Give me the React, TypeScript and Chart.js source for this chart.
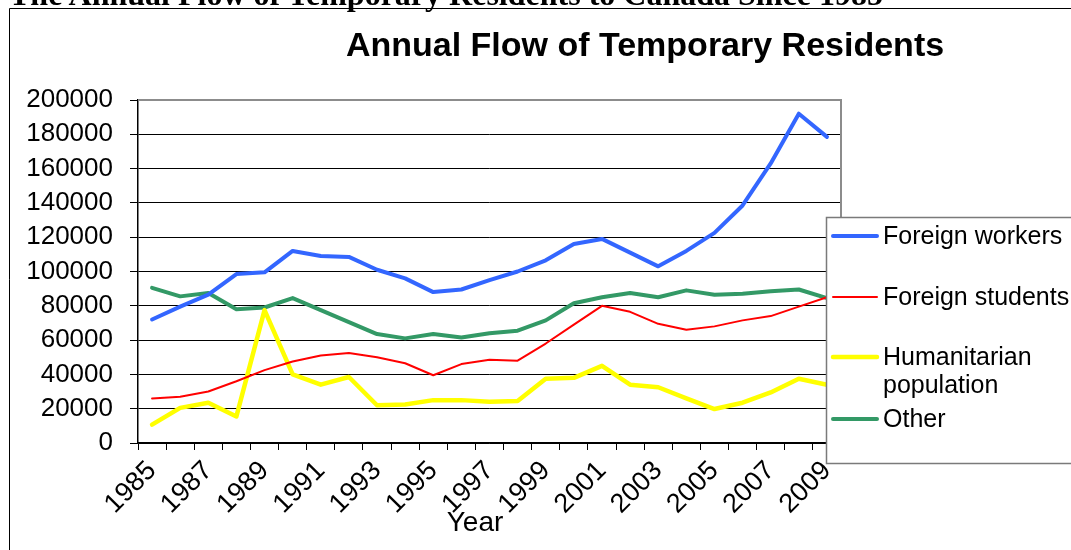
import React, { useEffect, useRef } from 'react';
import { Chart, registerables } from 'chart.js';

Chart.register(...registerables);

const years = [
  '1985', '1986', '1987', '1988', '1989', '1990', '1991', '1992', '1993', '1994',
  '1995', '1996', '1997', '1998', '1999', '2000', '2001', '2002', '2003', '2004',
  '2005', '2006', '2007', '2008', '2009',
];

const foreignWorkers = [
  72000, 79500, 86500, 98500, 99500, 112000, 109000, 108500, 101000, 96000,
  88000, 89500, 95000, 100000, 106500, 116000, 119000, 111000, 103000, 112000,
  122500, 138500, 163000, 192000, 178500,
];

const foreignStudents = [
  26000, 27000, 30000, 36000, 42500, 47500, 51000, 52500, 50000, 46500,
  39500, 46000, 48500, 48000, 58000, 69000, 80000, 76500, 69500, 66000,
  68000, 71500, 74000, 79500, 85000,
];

const humanitarian = [
  10700, 20500, 23500, 15500, 77500, 40000, 34000, 38500, 22000, 22500,
  25000, 25000, 24000, 24500, 37500, 38000, 45000, 34000, 32500, 26000,
  19800, 23500, 29500, 37500, 34000,
];

const other = [
  90500, 85500, 87500, 78000, 79000, 84500, 77500, 70500, 63500, 61000,
  63500, 61500, 64000, 65500, 71500, 81500, 85000, 87500, 85000, 89000,
  86500, 87000, 88500, 89500, 84500,
];

const seriesNames = ['Foreign workers', 'Foreign students', 'Humanitarian population', 'Other'];
const legendLines = [['Foreign workers'], ['Foreign students'], ['Humanitarian', 'population'], ['Other']];
const seriesColors = ['#3366ff', '#ff0000', '#ffff00', '#339966'];
const seriesWidths = [4, 2, 4.5, 4];

const chartTitle = 'Annual Flow of Temporary Residents';
const pageHeading = 'The Annual Flow of Temporary Residents to Canada Since 1985';
const xAxisTitle = 'Year';
const yMin = 0;
const yMax = 200000;
const yStep = 20000;

const SANS = '"Liberation Sans", Arial, sans-serif';

const decorPlugin = {
  id: 'decor',
  beforeDraw(chart: any) {
    const ctx = chart.ctx;
    ctx.save();
    ctx.fillStyle = '#ffffff';
    ctx.fillRect(0, 0, chart.width, chart.height);
    // outer frame (left + top)
    ctx.strokeStyle = '#000000';
    ctx.lineWidth = 1;
    ctx.beginPath();
    ctx.moveTo(9.5, chart.height);
    ctx.lineTo(9.5, 8.5);
    ctx.lineTo(chart.width, 8.5);
    ctx.stroke();
    ctx.restore();
  },
  afterDraw(chart: any) {
    const ctx = chart.ctx;
    const a = chart.chartArea;
    ctx.save();
    // plot area top and right border (gray)
    ctx.strokeStyle = '#8c8c8c';
    ctx.lineWidth = 2;
    ctx.beginPath();
    ctx.moveTo(a.left, a.top);
    ctx.lineTo(a.right, a.top);
    ctx.lineTo(a.right, a.bottom);
    ctx.stroke();

    // chart title
    ctx.fillStyle = '#000000';
    ctx.font = 'bold 34px ' + SANS;
    ctx.textAlign = 'center';
    ctx.textBaseline = 'middle';
    ctx.fillText(chartTitle, 645, 47);

    // x axis title
    ctx.font = '28px ' + SANS;
    ctx.fillText(xAxisTitle, 475, 523);

    // legend box
    const lx = 826;
    const ly = 217;
    const lb = 463;
    ctx.fillStyle = '#ffffff';
    ctx.fillRect(lx, ly, chart.width - lx + 5, lb - ly);
    ctx.strokeStyle = '#7a7a7a';
    ctx.lineWidth = 1.5;
    ctx.strokeRect(lx + 0.5, ly + 0.5, chart.width - lx + 5, lb - ly);

    const itemY = [236, 297, 357, 419];
    ctx.font = '25px ' + SANS;
    ctx.textAlign = 'left';
    ctx.textBaseline = 'middle';
    legendLines.forEach((lines, i) => {
      const y = itemY[i];
      ctx.strokeStyle = seriesColors[i];
      ctx.lineWidth = seriesWidths[i];
      ctx.lineCap = 'round';
      ctx.beginPath();
      ctx.moveTo(833, y);
      ctx.lineTo(877, y);
      ctx.stroke();
      ctx.fillStyle = '#000000';
      lines.forEach((t, j) => {
        ctx.fillText(t, 883, y + 1 + j * 28);
      });
    });
    ctx.restore();
  },
};

export default function App() {
  const canvasRef = useRef<HTMLCanvasElement | null>(null);

  useEffect(() => {
    const canvas = canvasRef.current;
    if (!canvas) return;
    const series = [foreignWorkers, foreignStudents, humanitarian, other];
    const chart = new Chart(canvas, {
      type: 'line',
      data: {
        labels: years,
        datasets: series.map((d, i) => ({
          label: seriesNames[i],
          data: d,
          borderColor: seriesColors[i],
          backgroundColor: seriesColors[i],
          borderWidth: seriesWidths[i],
          pointRadius: 0,
          pointHoverRadius: 0,
          tension: 0,
          fill: false,
          borderJoinStyle: 'round' as const,
          borderCapStyle: 'round' as const,
        })),
      },
      options: {
        responsive: false,
        animation: false,
        events: [],
        layout: { padding: { top: 100, right: 230, bottom: 0, left: 0 } },
        plugins: {
          legend: { display: false },
          title: { display: false },
          tooltip: { enabled: false },
        },
        scales: {
          x: {
            type: 'category',
            offset: true,
            afterFit: (s: any) => {
              s.height = 107;
            },
            grid: {
              offset: true,
              drawOnChartArea: false,
              drawTicks: true,
              tickLength: 7,
              color: '#000000',
              lineWidth: 1,
            },
            border: { display: true, color: '#000000', width: 1.5 },
            ticks: {
              autoSkip: false,
              maxRotation: 45,
              minRotation: 45,
              padding: 5,
              color: '#000000',
              font: { family: SANS, size: 27 },
              callback: (_v: any, i: number) => (i % 2 === 0 ? years[i] : ''),
            },
          },
          y: {
            min: yMin,
            max: yMax,
            afterFit: (s: any) => {
              s.width = 138;
            },
            grid: {
              color: (c: any) => (c.tick && c.tick.value === yMax ? '#8c8c8c' : '#000000'),
              lineWidth: 1,
              drawTicks: true,
              tickLength: 8,
              tickColor: '#000000',
            },
            border: { display: true, color: '#000000', width: 1.5 },
            ticks: {
              autoSkip: false,
              stepSize: yStep,
              padding: 17,
              color: '#000000',
              font: { family: SANS, size: 26 },
              callback: (v: any) => String(v),
            },
          },
        },
      },
      plugins: [decorPlugin],
    } as any);
    return () => chart.destroy();
  }, []);

  return (
    <div style={{ position: 'absolute', left: 0, top: 0, width: 1071, height: 550, overflow: 'hidden', background: '#fff' }}>
      <canvas ref={canvasRef} width={1071} height={550} style={{ position: 'absolute', left: 0, top: 0, width: 1071, height: 550 }} />
      <div
        style={{
          position: 'absolute',
          left: 9,
          top: -21,
          fontFamily: '"Liberation Serif", "Times New Roman", serif',
          fontWeight: 'bold',
          fontSize: 32,
          lineHeight: '31px',
          whiteSpace: 'nowrap',
          color: '#000',
        }}
      >
        {pageHeading}
      </div>
    </div>
  );
}
